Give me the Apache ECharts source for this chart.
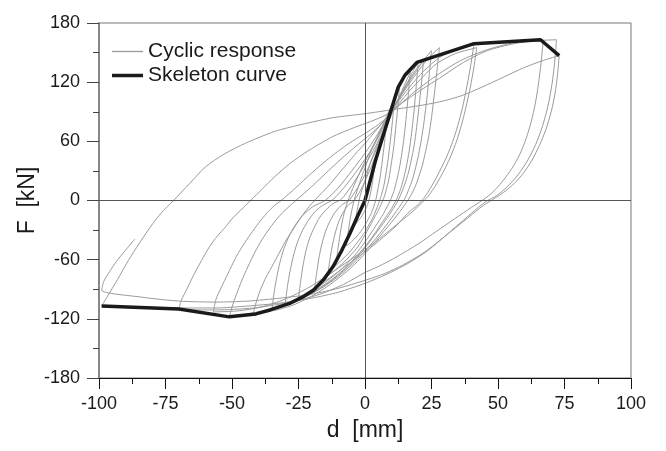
<!DOCTYPE html>
<html>
<head>
<meta charset="utf-8">
<script src="https://cdn.jsdelivr.net/npm/echarts@6/dist/echarts.min.js"></script>
<style>
html,body{margin:0;padding:0;background:#fff;}
#chart{width:666px;height:451px;}
</style>
</head>
<body>
<div id="chart"></div>
<script>
// Axis ticks
const xTicks = [-100, -75, -50, -25, 0, 25, 50, 75, 100];
const yTicks = [-180, -120, -60, 0, 60, 120, 180];

// Skeleton (envelope) curve [d mm, F kN]
const skeleton = [[-99,-107],[-70,-110],[-51,-118],[-41,-115],[-35.7,-111],[-28,-104],[-23.5,-98],[-19.4,-91],[-15.5,-80],[-12,-67],[-8.8,-51],[-5.6,-33],[-2.8,-16],[0,0],[4,41],[8,76],[12.5,115],[15,127],[19.5,140],[41,159],[66,163],[73,147]];

// Cyclic response, cycle by cycle [d mm, F kN]
const cyc01 = [[0,0],[1,10],[2,21],[3,31],[4,40],[3.3,28],[2.6,15],[1.8,4],[1,-4],[0,-10],[-1.5,-17],[-3,-22],[-4,-26]];
const cyc02 = [[-3.3,-15],[-2.6,-5],[-1.8,5],[0,20],[2,38],[4,52],[6,64],[8,76],[7.3,58],[6.5,40],[5.7,24],[4.8,11],[4,0],[2.5,-12],[1,-20],[0,-25],[-2,-33],[-4,-39],[-6,-44],[-7,-46]];
const cyc03 = [[-6.3,-32],[-5.6,-19],[-4.8,-8],[-4,1],[-2,18],[0,33],[2,48],[4,60],[6,72],[8,85],[9.5,93],[11,101],[10.3,80],[9.5,60],[8.7,42],[7.8,26],[7,14],[6,4],[5,-4],[3,-17],[1,-27],[0,-32],[-3,-43],[-6,-53],[-9,-61],[-11,-66]];
const cyc04 = [[-10.2,-50],[-9.4,-35],[-8.6,-22],[-7.6,-10],[-6.5,-1],[-4,16],[-1,34],[2,50],[5,66],[8,82],[10,95],[12,107],[13,116],[12.3,94],[11.5,72],[10.7,52],[9.8,36],[9,22],[8,11],[7,2],[5,-10],[3,-20],[0,-35],[-3,-48],[-7,-60],[-11,-70],[-14,-76]];
const cyc05 = [[-13.2,-60],[-12.3,-46],[-11.2,-33],[-9.8,-21],[-8,-11],[-6,-4],[-4,0],[-1,14],[2,32],[5,52],[7,66],[9,80],[11,94],[13,106],[15,118],[17,130],[16.2,105],[15.4,82],[14.6,62],[13.7,45],[12.8,31],[11.8,19],[10.8,9],[9.5,0],[7,-13],[4,-26],[0,-42],[-4,-56],[-9,-70],[-14,-81],[-19,-90]];
const cyc06 = [[-18.2,-74],[-17.3,-58],[-16.2,-44],[-14.8,-31],[-13,-20],[-11,-11],[-8.5,-4],[-6,0],[-3,12],[0,26],[3,44],[6,62],[8,76],[10,90],[13,106],[16,120],[18,131],[20,140],[19.2,114],[18.4,90],[17.5,68],[16.6,50],[15.6,35],[14.5,22],[13.3,11],[12,2],[10,-8],[7,-20],[3,-36],[-2,-53],[-8,-70],[-14,-83],[-20,-93],[-25,-99]];
const cyc07 = [[-24.2,-82],[-23.3,-66],[-22.2,-51],[-20.8,-38],[-19,-27],[-17,-17],[-14.5,-9],[-12,-3],[-9,1],[-5,15],[-1,32],[3,50],[6,66],[8,78],[10,90],[13,104],[16,119],[19,132],[22,142],[21.2,118],[20.3,95],[19.4,74],[18.5,56],[17.4,41],[16.3,28],[15,17],[13.6,7],[12,-2],[9,-15],[5,-30],[0,-48],[-6,-66],[-12,-80],[-18,-91],[-24,-99],[-30,-105]];
const cyc08 = [[-29.2,-88],[-28.2,-72],[-27,-57],[-25.6,-44],[-23.8,-32],[-21.5,-21],[-19,-12],[-16,-5],[-12,1],[-7,16],[-2,34],[2,50],[5,64],[8,80],[10,90],[13,104],[16,118],[19,130],[22,142],[25,152],[24.1,126],[23.2,102],[22.2,80],[21.2,62],[20.1,46],[19,33],[17.8,21],[16.4,11],[15,2],[12,-10],[8,-25],[3,-42],[-3,-60],[-10,-77],[-17,-90],[-24,-100],[-30,-106],[-35,-111]];
const cyc09 = [[-34.2,-94],[-33.2,-78],[-32,-63],[-30.5,-49],[-28.5,-36],[-26,-24],[-23,-14],[-19.5,-6],[-15,0],[-10,13],[-5,30],[0,48],[4,64],[7,78],[9.5,89],[13,104],[17,120],[20,131],[24,145],[28,155],[27,130],[26,106],[25,84],[24,66],[22.8,50],[21.6,36],[20.2,24],[18.7,13],[17,4],[14,-8],[10,-22],[5,-38],[0,-54],[-6,-70],[-13,-85],[-20,-97],[-28,-107],[-35,-112],[-42,-115]];
const cyc10 = [[-41,-104],[-39.5,-92],[-37.6,-80],[-35.6,-70],[-33,-57],[-30,-42],[-26.5,-27],[-23,-13],[-19,0],[-14,14],[-9,30],[-4,46],[1,61],[5,74],[9,87],[13,102],[17,116],[22,131],[28,145],[34,153],[41,159],[39.8,138],[38.4,117],[36.8,96],[35,77],[33,60],[30.8,45],[28.5,32],[26.2,20],[24,10],[22,2],[20,-4],[16,-13],[12,-25],[7,-37],[2,-48],[0,-52],[-6,-64],[-13,-78],[-21,-92],[-29,-104],[-37,-111],[-44,-115],[-51,-118]];
const cyc11 = [[-50,-108],[-48.3,-95],[-46.3,-81],[-44,-67],[-41.5,-53],[-38.8,-40],[-35.8,-28],[-32.6,-17],[-29.3,-8],[-26,0],[-20.5,13],[-15,27],[-9,42],[-3,56],[2,67],[6,77],[9.5,88],[13,99],[17,112],[22,126],[27,139],[34,149],[42,155],[41,136],[39.6,115],[38,95],[36.2,76],[34.4,60],[32.4,46],[30.2,33],[28,22],[25.8,12],[23.6,4],[21.5,-2],[18,-11],[13,-22],[8,-33],[3,-44],[0,-50],[-6,-61],[-13,-74],[-21,-88],[-30,-100],[-39,-108],[-48,-112],[-57,-113]];
const cyc12 = [[-56,-100],[-54,-88],[-51.5,-74],[-49,-60],[-46,-46],[-43,-34],[-40,-23],[-37,-13],[-34,-5],[-31.5,0],[-26,13],[-20,28],[-13,44],[-6,58],[0,68],[5,77],[9,86],[13,97],[19,111],[27,127],[36,142],[46,153],[56,160],[67,162],[66.2,140],[65.2,118],[64,98],[62.5,80],[60.6,63],[58.4,48],[55.8,35],[53,24],[50,14],[47,6],[44,0],[40,-7],[34,-18],[27,-31],[20,-44],[12,-57],[5,-67],[0,-73],[-8,-85],[-18,-96],[-30,-104],[-42,-109],[-56,-111],[-70,-110]];
const cyc13 = [[-69,-101],[-67,-90],[-64.5,-76],[-61.5,-61],[-58.5,-47],[-55.5,-36],[-52.5,-27],[-49.5,-17],[-46,-8],[-43,0],[-38.5,12],[-34,24],[-28,38],[-21,51],[-12,65],[-4,74],[2,80],[8,87],[14,99],[21,112],[28,124],[37,140],[46,152],[56,159],[64,162],[72,163],[71.3,140],[70.3,118],[68.8,96],[66.8,76],[64.2,57],[61,40],[57.5,26],[53.5,14],[49.5,5],[45.5,-1],[40,-13],[34,-27],[28,-41],[23,-52],[16,-64],[8,-75],[0,-84],[-10,-93],[-20,-99],[-32,-104],[-44,-107],[-56,-109],[-70,-109],[-84,-108],[-99,-107]];
const cyc14 = [[-97,-98],[-93,-80],[-89,-61],[-85,-44],[-81.5,-30],[-78,-17],[-75,-8],[-72,0],[-66,17],[-60,34],[-53,47],[-45,58],[-34,70],[-24,77],[-12,84],[0,88],[10,92],[20,96],[28,100],[36,106],[44,115],[52,125],[60,135],[67,142],[73,147],[72.4,128],[71.4,108],[70,90],[68,72],[65.6,56],[62.8,41],[59.6,28],[56,17],[52,8],[48,1],[44.5,-5],[38.5,-18],[32.5,-31],[26.5,-44],[21.5,-54],[14.5,-65],[7.5,-74],[0,-81],[-10,-89],[-20,-95],[-32,-99],[-44,-102],[-56,-103],[-70,-102],[-84,-98],[-99,-91]];
const cyc15 = [[-98.2,-82],[-96,-72],[-93.5,-62],[-90.5,-52],[-86.5,-39]];

const cyclic = [].concat(cyc01, cyc02, cyc03, cyc04, cyc05, cyc06, cyc07, cyc08, cyc09, cyc10, cyc11, cyc12, cyc13, cyc14, cyc15);

const FONT = 'Liberation Sans, Arial, sans-serif';
const legendText = {fontFamily: FONT, fontSize: 21, color: '#1a1a1a'};
const chart = echarts.init(document.getElementById('chart'), null, {renderer: 'canvas'});
chart.setOption({
  animation: false,
  backgroundColor: '#ffffff',
  grid: {left: 99, right: 35, top: 23, bottom: 73, show: true, borderColor: '#777', borderWidth: 1, backgroundColor: 'transparent'},
  legend: [
    {
      left: 107, top: 36, padding: 5, itemWidth: 31, itemHeight: 1.3, itemGap: 5,
      icon: 'rect', textStyle: legendText,
      itemStyle: {color: '#9a9a9a'},
      data: [{name: 'Cyclic response', icon: 'rect'}]
    },
    {
      left: 107, top: 60, padding: 5, itemWidth: 31, itemHeight: 3.5, itemGap: 5,
      icon: 'rect', textStyle: legendText,
      itemStyle: {color: '#1a1a1a'},
      data: [{name: 'Skeleton curve', icon: 'rect'}]
    }
  ],
  xAxis: {
    type: 'value', min: xTicks[0], max: xTicks[xTicks.length-1], interval: 25,
    name: 'd  [mm]', nameLocation: 'middle', nameGap: 41, nameMoveOverlap: false,
    nameTextStyle: {fontFamily: FONT, fontSize: 23, color: '#1a1a1a'},
    axisLine: {show: true, onZero: false, lineStyle: {color: '#111', width: 1.2}},
    axisTick: {show: true, inside: false, length: 11, lineStyle: {color: '#111', width: 1}},
    minorTick: {show: true, splitNumber: 2, length: 6, lineStyle: {color: '#111', width: 1}},
    axisLabel: {fontFamily: FONT, fontSize: 18, color: '#1a1a1a', margin: 17},
    splitLine: {show: false}, minorSplitLine: {show: false}
  },
  yAxis: {
    type: 'value', min: yTicks[0], max: yTicks[yTicks.length-1], interval: 60,
    name: 'F  [kN]', nameLocation: 'middle', nameGap: 60, nameMoveOverlap: false,
    nameTextStyle: {fontFamily: FONT, fontSize: 23, color: '#1a1a1a'},
    axisLine: {show: true, onZero: false, lineStyle: {color: '#888', width: 2}},
    axisTick: {show: true, inside: false, length: 12, lineStyle: {color: '#444', width: 1}},
    minorTick: {show: true, splitNumber: 2, length: 6, lineStyle: {color: '#444', width: 1}},
    axisLabel: {fontFamily: FONT, fontSize: 18, color: '#1a1a1a', margin: 19},
    splitLine: {show: false}, minorSplitLine: {show: false}
  },
  series: [
    {
      name: 'Cyclic response', type: 'line', data: cyclic, showSymbol: false, symbol: 'none',
      smooth: 0.25, lineStyle: {color: '#9a9a9a', width: 1}, itemStyle: {color: '#9a9a9a'}, z: 2,
      markLine: {
        silent: true, symbol: ['none','none'], label: {show: false},
        lineStyle: {color: '#555', width: 1, type: 'solid'},
        data: [{xAxis: 0}, {yAxis: 0}]
      }
    },
    {
      name: 'Skeleton curve', type: 'line', data: skeleton, showSymbol: false, symbol: 'none',
      smooth: false, lineStyle: {color: '#1a1a1a', width: 3.5}, itemStyle: {color: '#1a1a1a'}, z: 3
    }
  ]
});
</script>
</body>
</html>
